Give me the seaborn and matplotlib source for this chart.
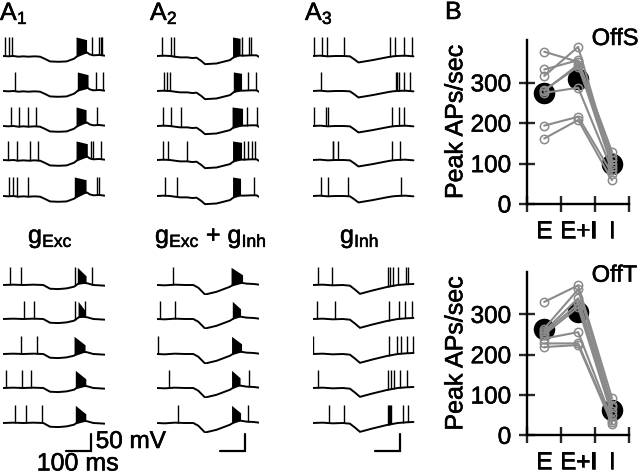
import numpy as np
import pandas as pd
import seaborn as sns
import matplotlib.pyplot as plt
import matplotlib.patheffects as pe
from matplotlib.text import Text

# membrane traces: times in ms, voltage in mV relative to rest
t_a1_top = [0, 20, 40, 60, 80, 100, 125, 147, 165, 187, 220, 253, 283, 300, 307, 336, 345, 360, 385, 405]
v_a1_top = [0, -1, 0, -2, -1, -2, -1, -2, -8, -16, -17, -16, -8, 2, 8, 10, 5, 2, 3, 1]
t_a2_top = [0, 25, 51, 70, 91, 120, 140, 157, 175, 191, 237, 291, 305, 315, 345, 375, 397, 408]
v_a2_top = [0, 1, 0, -2, -4, -4, -6, -5, -14, -24, -22, -12, -4, 2, 1, 2, 2, -3]
t_a3_top = [0, 30, 60, 90, 123, 149, 165, 183, 240, 303, 320, 336, 370, 403]
v_a3_top = [0, 1, -1, 0, 0, -1, -9, -19, -12, -3, -1, 0, 1, -1]
t_a1_low = [0, 40, 80, 120, 160, 187, 220, 253, 283, 296, 307, 336, 360, 385, 405]
v_a1_low = [0, 1, 0, 1, 0, -11, -12, -10, -5, 2, 8, 5, 0, -1, -2]
t_a2_low = [0, 30, 70, 110, 144, 164, 191, 237, 291, 310, 324, 357, 385, 408]
v_a2_low = [0, -1, 1, 0, 0, -8, -28, -20, -5, 4, 8, 4, 3, 1]
t_a3_low = [0, 40, 80, 120, 149, 170, 189, 240, 296, 340, 375, 403]
v_a3_low = [0, 1, -1, 0, -2, -14, -26, -16, -6, 0, 2, 3]

spikes_a1_top = [[7, 23, 33, 356, 383, 391, 396], [45, 372, 399], [31, 61, 97, 131, 373],
                 [19, 56, 107, 139, 349, 359, 389], [24, 40, 56, 99, 376, 384]]
bursts_a1_top = [(291, 333), (296, 339), (291, 331), (291, 336), (284, 331)]
spikes_a2_top = [[20, 53, 67, 337, 367, 376], [28, 40, 51, 361, 393], [23, 53, 95, 359, 400],
                 [23, 43, 117, 345, 361, 379, 391], [29, 80, 385]]
bursts_a2_top = [(301, 331), (304, 337), (299, 341), (301, 337), (301, 333)]
spikes_a3_top = [[7, 36, 56, 125, 309, 328, 365, 397], [32, 332, 339, 345, 365, 389], [7, 52, 60, 319, 345, 365],
                 [80, 83, 101, 317, 349], [33, 61, 141, 353]]
spikes_a1_low = [[25, 69, 285, 355], [81, 124, 285, 328], [69, 133], [11, 73, 109], [45, 91, 156]]
bursts_a1_low = [(296, 331), (299, 325), (283, 327), (288, 330), (288, 330)]
spikes_a2_low = [[64], [9, 69], [3], [45, 367], [81, 363]]
bursts_a2_low = [(295, 341), (300, 333), (297, 337), (297, 331), (297, 333)]
spikes_a3_low = [[20, 77, 303, 309, 323, 343, 373, 383], [16, 89, 305, 345, 371, 397], [0, 307, 339, 352, 376, 400],
                 [20, 303, 312, 325, 349, 379], [64, 127, 303, 306, 309, 312, 363, 383]]

# peak rates for each cell in E, E+I, I
conditions = ['E', 'E+I', 'I']
offs_e = [377, 333, 317, 282, 280, 275, 194, 162]
offs_ei = [352, 356, 389, 340, 345, 288, 216, 208]
offs_i = [109, 129, 100, 117, 92, 84, 75, 59]
offs_mean = [276, 309, 99]
offt_e = [331, 265, 258, 255, 250, 240, 228, 219]
offt_ei = [372, 362, 340, 326, 318, 256, 228, 224]
offt_i = [92, 75, 70, 60, 50, 38, 33, 28]
offt_mean = [265, 306, 62]

W, H = 640, 474
sns.set_style('white')
plt.rcParams['font.family'] = ['Liberation Sans', 'DejaVu Sans']
plt.rcParams['mathtext.fontset'] = 'custom'
plt.rcParams['mathtext.rm'] = 'Liberation Sans'
fig = plt.figure(figsize=(W / 100, H / 100), dpi=100)


def rect(x0, y0, x1, y1):
    return [x0 / W, 1 - y1 / H, (x1 - x0) / W, (y1 - y0) / H]


def label(x, y, s, size=18, **kw):
    fig.text(x / W, 1 - y / H, s, fontsize=size, color='black', va='baseline', **kw)


def draw_trace(x0, base, t, v, spikes, burst, top, drop, bar=False):
    ax = fig.add_axes(rect(x0, base - 70 * 0.34, x0 + 102, base + 30 * 0.34))
    ax.axis('off')
    ax.patch.set_alpha(0)
    sns.lineplot(x=t, y=v, ax=ax, color='black', lw=1.4, estimator=None, sort=False)
    feet = np.interp(spikes, t, v)
    ax.vlines(spikes, feet, top, color='black', lw=1.0)
    if burst is not None:
        feet = np.interp(burst, t, v)
        ax.fill_between(burst, feet, [top, top - drop], color='black', lw=0)
    if bar:
        ax.plot([249, 349, 349], [-82, -82, -32], color='black', lw=1.6, clip_on=False,
                solid_joinstyle='miter')
    ax.set_xlim(0, 408)
    ax.set_ylim(-30, 70)


col_x = [3.3, 157.3, 312.7]
top_rows = [56, 91, 126, 160, 196]
low_rows = [285, 319, 354, 388, 423]
no_bursts = [None] * 5
top_panels = [(t_a1_top, v_a1_top, spikes_a1_top, bursts_a1_top, 8),
              (t_a2_top, v_a2_top, spikes_a2_top, bursts_a2_top, 4),
              (t_a3_top, v_a3_top, spikes_a3_top, no_bursts, 0)]
low_panels = [(t_a1_low, v_a1_low, spikes_a1_low, bursts_a1_low, 25),
              (t_a2_low, v_a2_low, spikes_a2_low, bursts_a2_low, 22),
              (t_a3_low, v_a3_low, spikes_a3_low, no_bursts, 0)]

for x0, (t, v, spikes, bursts, drop) in zip(col_x, top_panels):
    for i, base in enumerate(top_rows):
        draw_trace(x0, base, t, v, spikes[i], bursts[i], 56, drop)
for x0, (t, v, spikes, bursts, drop) in zip(col_x, low_panels):
    for i, base in enumerate(low_rows):
        draw_trace(x0, base, t, v, spikes[i], bursts[i], 52, drop, bar=i == 4)


def draw_rates(y0, y1, e, ei, i, mean, name, name_y):
    ax = fig.add_axes(rect(527.3, y0, 629, y1))
    ax.patch.set_alpha(0)
    df = pd.DataFrame({'cell': list(range(len(e))) * 3,
                       'cond': [0] * len(e) + [1] * len(e) + [2] * len(e),
                       'rate': e + ei + i})
    sns.scatterplot(x=[0, 1, 2], y=mean, ax=ax, color='black', s=240, linewidth=0, zorder=2, clip_on=False)
    sns.lineplot(data=df, x='cond', y='rate', units='cell', estimator=None, ax=ax, color='#8a8a8a', lw=1.5,
                 marker='o', markersize=6, markerfacecolor='none', markeredgecolor='#8a8a8a',
                 markeredgewidth=1.1, zorder=3, clip_on=False)
    ax.set_xlim(-0.5, 2.5)
    ax.set_ylim(0, 406)
    sns.despine(ax=ax)
    for s in ['left', 'bottom']:
        ax.spines[s].set_linewidth(1.7)
        ax.spines[s].set_color('black')
    ax.set_yticks([0, 100, 200, 300])
    ax.tick_params(axis='y', direction='inout', length=11, width=1.7, pad=6, labelsize=17.5, left=True,
                   labelcolor='black')
    ax.set_xticks([-0.5, 0.5, 1.5, 2.5])
    ax.set_xticklabels([])
    ax.set_xticks([0, 1, 2], minor=True)
    ax.set_xticklabels(conditions, minor=True)
    ax.tick_params(axis='x', which='major', direction='inout', length=11, width=1.7, bottom=True)
    ax.tick_params(axis='x', which='minor', length=0, pad=12, labelsize=17.5, labelcolor='black')
    ax.set_xlabel('')
    ax.set_ylabel('Peak APs/sec', fontsize=18, color='black')
    ax.yaxis.set_label_coords(-0.59, 0.5)
    label(591.7, name_y, name, size=17)


draw_rates(40, 204, offs_e, offs_ei, offs_i, offs_mean, 'OffS', 45)
draw_rates(271.7, 435.3, offt_e, offt_ei, offt_i, offt_mean, 'OffT', 281.7)

label(0, 20, r'$\mathregular{A_1}$')
label(150, 20, r'$\mathregular{A_2}$')
label(305, 20, r'$\mathregular{A_3}$')
label(445, 19, 'B', size=18)
label(28, 243, r'$\mathregular{g_{Exc}}$')
label(155, 243, r'$\mathregular{g_{Exc}}$ + $\mathregular{g_{Inh}}$')
label(340, 243, r'$\mathregular{g_{Inh}}$')
label(95.7, 448, '50 mV', size=17.5)
label(36.7, 470.5, '100 ms')

# text in the reference prints heavier than Liberation Sans regular
for txt in fig.findobj(Text):
    txt.set_path_effects([pe.withStroke(linewidth=0.4, foreground='black')])

fig.savefig('out.png', dpi=100)
